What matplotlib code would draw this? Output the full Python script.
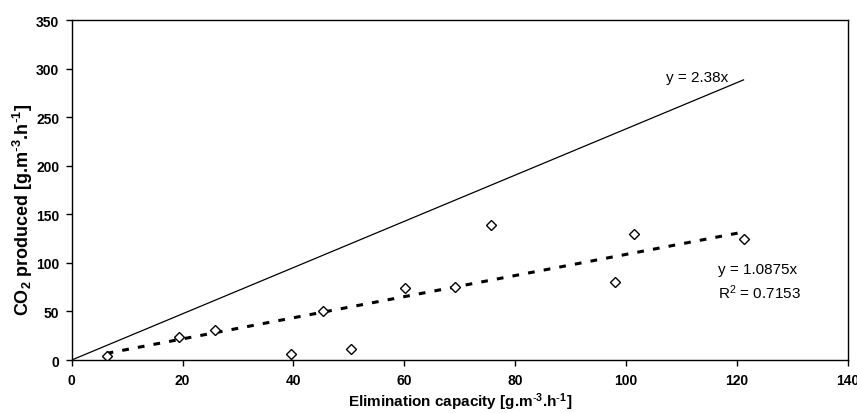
import matplotlib
matplotlib.use("Agg")
import matplotlib.pyplot as plt
import numpy as np

plt.rcParams['font.family'] = ['Liberation Sans', 'DejaVu Sans']
plt.rcParams['mathtext.default'] = 'regular'

# measured data
elim_capacity = [6.3, 19.3, 25.9, 39.6, 45.3, 50.4, 60.2, 69.1, 75.6, 98.0, 101.4, 121.2]
co2_produced = [3.8, 23.7, 31.2, 6.5, 50.5, 11.3, 74.5, 75.5, 139.0, 80.0, 129.7, 124.3]

stoich_slope = 2.38
fit_slope = 1.0875
fit_r2 = 0.7153

x_ticks = [0, 20, 40, 60, 80, 100, 120, 140]
y_ticks = [0, 50, 100, 150, 200, 250, 300, 350]

fig = plt.figure(figsize=(8.57, 4.14), dpi=100)
ax = fig.add_axes([0.0837, 0.128, 0.9055, 0.821])

xs = np.array([0, max(elim_capacity)])
ax.plot(xs, stoich_slope * xs, color='black', lw=0.9)

xf = np.array([min(elim_capacity), max(elim_capacity)])
ax.plot(xf, fit_slope * xf, color='black', lw=2.2, linestyle=(0, (2.2, 3.0)))

ax.plot(elim_capacity, co2_produced, linestyle='none', marker='D', markersize=5,
        markerfacecolor='white', markeredgecolor='black', markeredgewidth=1.0)

ax.set_xlim(0, 140)
ax.set_ylim(0, 350)
ax.set_xticks(x_ticks)
ax.set_yticks(y_ticks)
ax.tick_params(direction='out', length=4, width=1, labelsize=10, pad=5)
for lab in ax.get_xticklabels() + ax.get_yticklabels():
    lab.set_fontweight('bold')
for s in ax.spines.values():
    s.set_linewidth(1.0)

unit = r'[g.m$^{\text{-}3}$.h$^{\text{-}1}$]'
ax.set_xlabel('Elimination capacity ' + unit, fontsize=11, fontweight='bold', labelpad=3)
ax.set_ylabel('CO$_2$ produced ' + unit, fontsize=13, fontweight='bold')
ax.yaxis.set_label_coords(-0.047, 0.444)

ax.text(107.2, 291, 'y = 2.38x', fontsize=11, va='center', ha='left')
ax.text(116.6, 93.7, 'y = 1.0875x', fontsize=11, va='center', ha='left')
ax.text(116.6, 70, 'R$^2$ = 0.7153', fontsize=11, va='center', ha='left')

fig.savefig('out.png', dpi=100)
